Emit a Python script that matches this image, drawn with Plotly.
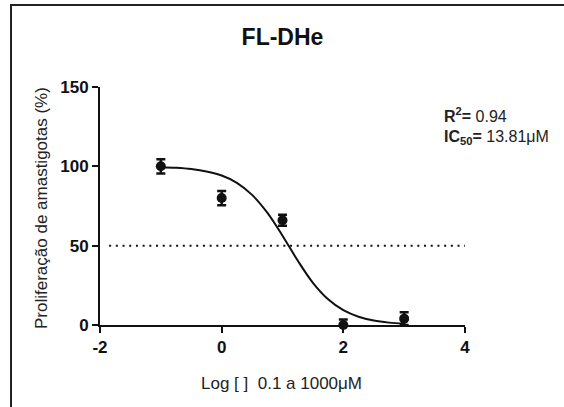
import plotly.graph_objects as go

# Data
log_conc = [-1, 0, 1, 2, 3]
prolif = [100, 80, 66, 0, 4]
prolif_err = [4.5, 4.5, 3.5, 3.5, 4]

# Fitted curve points
curve_x = [-1, -0.75, -0.5, -0.25, 0, 0.25, 0.5, 0.75, 1.0, 1.25, 1.5, 1.75,
           2.0, 2.25, 2.5, 2.75, 3.0]
curve_y = [99.5, 99.1, 98.3, 96.8, 94.2, 89.6, 82.0, 70.8, 56.3, 40.6, 26.6,
           16.2, 9.3, 5.2, 2.8, 1.5, 0.8]

ref_x = [-1.85, 4]
ref_y = [50, 50]

x_ticks = [-2, 0, 2, 4]
y_ticks = [0, 50, 100, 150]

title = "FL-DHe"
x_title = "Log [ ]  0.1 a 1000μM"
y_title = "Proliferação de amastigotas (%)"

FONT = "Liberation Sans, Arial, sans-serif"

fig = go.Figure()

fig.add_trace(go.Scatter(
    x=ref_x, y=ref_y, mode="lines",
    line=dict(color="#111111", width=2, dash="2px,4.7px"),
    hoverinfo="skip", showlegend=False,
))

fig.add_trace(go.Scatter(
    x=curve_x, y=curve_y, mode="lines",
    line=dict(color="#111111", width=2, shape="spline"),
    showlegend=False, cliponaxis=False,
))

fig.add_trace(go.Scatter(
    x=log_conc, y=prolif, mode="markers",
    marker=dict(color="#111111", size=10, symbol="circle"),
    error_y=dict(type="data", array=prolif_err, visible=True,
                 color="#111111", thickness=2.5, width=4.5),
    showlegend=False, cliponaxis=False,
))

fig.update_layout(
    width=564, height=407,
    margin=dict(l=100, r=99, t=87, b=82),
    paper_bgcolor="white", plot_bgcolor="white",
    showlegend=False,
    title=dict(text="<b>" + title + "</b>", x=0.5, xref="paper",
               y=1 - 36.5 / 407, yanchor="middle",
               font=dict(family=FONT, size=23, color="#111111")),
    xaxis=dict(range=[-2, 4], tickvals=x_ticks, ticktext=[str(v) for v in x_ticks],
               showgrid=False, zeroline=False, showline=True, linewidth=2,
               linecolor="#111111", ticks="outside", ticklen=6, tickwidth=2,
               tickcolor="#111111",
               tickfont=dict(family=FONT, size=17, color="#111111", weight="bold")),
    yaxis=dict(range=[0, 150], tickvals=y_ticks, ticktext=[str(v) for v in y_ticks],
               showgrid=False, zeroline=False, showline=True, linewidth=2,
               linecolor="#111111", ticks="outside", ticklen=6, tickwidth=2,
               tickcolor="#111111",
               tickfont=dict(family=FONT, size=17, color="#111111", weight="bold")),
    shapes=[dict(type="rect", xref="paper", yref="paper",
                 x0=-0.2438, x1=1.30, y0=-0.40, y1=1.3445,
                 line=dict(color="#222222", width=2), fillcolor="rgba(0,0,0,0)",
                 layer="below")],
    annotations=[
        dict(text=x_title, xref="paper", yref="paper", x=(281 - 100) / 365,
             y=(325 - 383) / 238, showarrow=False, xanchor="center", yanchor="middle",
             font=dict(family=FONT, size=17, color="#222222")),
        dict(text=y_title, xref="paper", yref="paper", x=(41 - 100) / 365,
             y=(325 - 208) / 238, showarrow=False, xanchor="center", yanchor="middle",
             textangle=-90, font=dict(family=FONT, size=17, color="#222222")),
        dict(text="<b>R<sup>2</sup>=</b> 0.94", xref="paper", yref="paper",
             x=(442 - 100) / 365, y=(325 - 115) / 238, showarrow=False,
             xanchor="left", yanchor="middle",
             font=dict(family=FONT, size=16, color="#222222")),
        dict(text="<b>IC<sub>50</sub>=</b> 13.81μM", xref="paper", yref="paper",
             x=(442 - 100) / 365, y=(325 - 137) / 238, showarrow=False,
             xanchor="left", yanchor="middle",
             font=dict(family=FONT, size=16, color="#222222")),
    ],
)

fig.write_html("out.html")
